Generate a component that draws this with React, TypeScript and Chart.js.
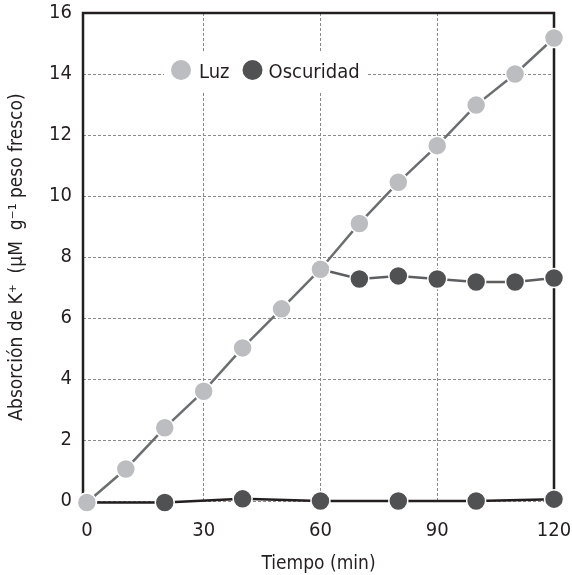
import React, { useEffect, useRef } from "react";
import { Chart, registerables } from "chart.js";

Chart.register(...registerables);

const luzTimes = [0, 10, 20, 30, 40, 50, 60, 70, 80, 90, 100, 110, 120];
const luzValues = [-0.05, 1.05, 2.4, 3.6, 5.02, 6.3, 7.6, 9.1, 10.45, 11.65, 12.98, 14.0, 15.18];

const oscTimes = [0, 20, 40, 60, 80, 100, 120];
const oscValues = [-0.05, -0.05, 0.07, 0.0, 0.0, 0.0, 0.06];

const oscAfterTimes = [60, 70, 80, 90, 100, 110, 120];
const oscAfterValues = [7.6, 7.28, 7.38, 7.28, 7.18, 7.18, 7.31];

const legendLabels = ["Luz", "Oscuridad"];
const xTickValues = [0, 30, 60, 90, 120];
const xTitle = "Tiempo (min)";
const yTitle = "Absorción de K⁺  (μM  g⁻¹ peso fresco)";

const FONT = "'Liberation Sans Narrow', 'DejaVu Sans Condensed', 'Open Sans', sans-serif";
const TEXT = "#231f20";
const LIGHT = "#bcbdc0";
const DARK = "#505153";

const toPoints = (xs: number[], ys: number[]) => xs.map((x, i) => ({ x, y: ys[i] }));

const zeroPadding = (scale: any) => {
  scale.paddingTop = 0;
  scale.paddingBottom = 0;
  scale.paddingLeft = 0;
  scale.paddingRight = 0;
};

const framePlugin = {
  id: "frame",
  beforeDatasetsDraw(chart: any) {
    const { ctx, chartArea } = chart;
    const y0 = chart.scales.y.getPixelForValue(0);
    ctx.save();
    ctx.strokeStyle = TEXT;
    ctx.lineWidth = 2.5;
    ctx.setLineDash([]);
    ctx.beginPath();
    ctx.moveTo(chartArea.left, y0 - 2);
    ctx.lineTo(chartArea.left, chartArea.top);
    ctx.lineTo(chartArea.right, chartArea.top);
    ctx.lineTo(chartArea.right, y0 - 2);
    ctx.stroke();
    ctx.restore();
  },
};

const legendPlugin = {
  id: "insideLegend",
  afterDatasetsDraw(chart: any) {
    const { ctx, chartArea } = chart;
    const ds = chart.data.datasets;
    const left = chartArea.left + 81;
    const cy = chart.scales.y.getPixelForValue(14) - 2;
    ctx.save();
    ctx.font = `20px ${FONT}`;
    const w0 = ctx.measureText(ds[0].label).width;
    const w1 = ctx.measureText(ds[1].label).width;
    const r = 10;
    const total = 6 + 2 * r + 8 + w0 + 12 + 2 * r + 6 + w1 + 10;
    ctx.fillStyle = "#ffffff";
    ctx.fillRect(left, cy - 20, total, 40);
    let x = left + 7 + r;
    ctx.fillStyle = ds[0].pointBackgroundColor;
    ctx.beginPath();
    ctx.arc(x, cy - 2, r, 0, Math.PI * 2);
    ctx.fill();
    x += r + 8;
    ctx.fillStyle = TEXT;
    ctx.textBaseline = "middle";
    ctx.textAlign = "left";
    ctx.fillText(ds[0].label, x, cy + 1);
    x += w0 + 13 + r;
    ctx.fillStyle = ds[1].pointBackgroundColor;
    ctx.beginPath();
    ctx.arc(x, cy - 2, r, 0, Math.PI * 2);
    ctx.fill();
    x += r + 6;
    ctx.fillStyle = TEXT;
    ctx.fillText(ds[1].label, x, cy + 1);
    ctx.restore();
  },
};

export default function App() {
  const ref = useRef<HTMLCanvasElement | null>(null);

  useEffect(() => {
    document.body.style.margin = "0";
    const canvas = ref.current;
    if (!canvas) return;
    const pointStyle = (bg: string) => ({
      pointRadius: 9.5,
      pointHoverRadius: 9.5,
      pointBackgroundColor: bg,
      pointBorderColor: "#ffffff",
      pointBorderWidth: 1.5,
    });
    const chart = new Chart(canvas, {
      type: "line",
      data: {
        datasets: [
          {
            label: legendLabels[0],
            data: toPoints(luzTimes, luzValues),
            borderColor: "#6d6e71",
            borderWidth: 2.5,
            clip: false,
            ...pointStyle(LIGHT),
          } as any,
          {
            label: legendLabels[1],
            data: toPoints(oscTimes, oscValues),
            borderColor: TEXT,
            borderWidth: 2.5,
            clip: false,
            ...pointStyle(DARK),
          } as any,
          {
            label: legendLabels[1] + " (tras luz)",
            data: toPoints(oscAfterTimes, oscAfterValues),
            borderColor: "#5d5e60",
            borderWidth: 2.5,
            clip: false,
            ...pointStyle(DARK),
            pointRadius: oscAfterTimes.map((_, i) => (i === 0 ? 0 : 9.5)),
          } as any,
        ],
      },
      options: {
        animation: false,
        responsive: false,
        devicePixelRatio: 1,
        layout: { padding: { top: 13, right: 18, left: 0, bottom: 0 } },
        plugins: { legend: { display: false }, tooltip: { enabled: false } },
        scales: {
          x: {
            type: "linear",
            min: -1,
            max: 120,
            afterBuildTicks: (scale: any) => {
              scale.ticks = xTickValues.map((v) => ({ value: v }));
            },
            afterFit: (scale: any) => {
              scale.height = 74;
              zeroPadding(scale);
            },
            border: { display: false, dash: [3, 2] },
            grid: {
              drawTicks: false,
              lineWidth: 1,
              color: (c: any) =>
                c.tick && (c.tick.value === 30 || c.tick.value === 60 || c.tick.value === 90)
                  ? "#8a8a8c"
                  : "rgba(0,0,0,0)",
            },
            ticks: {
              padding: 18,
              color: TEXT,
              font: { family: FONT, size: 20 },
              maxRotation: 0,
            },
            title: {
              display: true,
              text: xTitle,
              color: TEXT,
              font: { family: FONT, size: 19 },
              padding: { top: 0, bottom: 0 },
            },
          },
          y: {
            min: 0,
            max: 16,
            afterFit: (scale: any) => {
              scale.width = 83;
              zeroPadding(scale);
            },
            border: { display: false, dash: [3, 2] },
            grid: {
              drawTicks: false,
              lineWidth: 1,
              color: "#8a8a8c",
            },
            ticks: {
              stepSize: 2,
              padding: 11,
              color: TEXT,
              font: { family: FONT, size: 20 },
            },
            title: {
              display: true,
              text: yTitle,
              color: TEXT,
              font: { family: FONT, size: 19 },
              padding: { top: 6, bottom: 0 },
            },
          },
        },
      },
      plugins: [framePlugin, legendPlugin],
    } as any);
    return () => chart.destroy();
  }, []);

  return (
    <div style={{ position: "absolute", left: 0, top: 0, width: 572, height: 575 }}>
      <canvas ref={ref} width={572} height={575} style={{ display: "block" }} />
    </div>
  );
}
